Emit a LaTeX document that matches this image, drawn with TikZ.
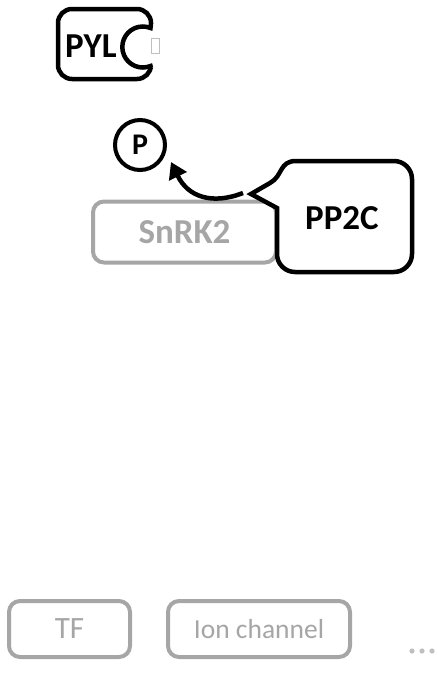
\documentclass[tikz,border=0pt]{standalone}
\usepackage{fontspec}
\setmainfont{Carlito}
\usetikzlibrary{arrows.meta}
\definecolor{inkgrey}{HTML}{A6A6A6}
\definecolor{dotgrey}{HTML}{BFBFBF}
\tikzset{
  blackline/.style={draw=black, line width=4.5pt},
  blackbox/.style={blackline, rounded corners=14pt, fill=white},
  greybox/.style={draw=inkgrey, line width=4pt, rounded corners=11pt, fill=white},
  boldlabel/.style={font=\bfseries\fontsize{35}{38}\selectfont},
  greylabel/.style={font=\fontsize{31}{34}\selectfont, text=inkgrey},
  arr/.style={line width=4.5pt, -{Triangle[length=16pt,width=19pt]}},
}
\begin{document}
\begin{tikzpicture}[x=1pt,y=-1pt]
\useasboundingbox (0,0) rectangle (438,673);

% PYL receptor with its ligand pocket
\draw[blackbox] (58,9) rectangle (151,79);
\fill[white] (138,24) rectangle (158,68);
\draw[blackline] (151,24) -- (150.5,28) arc[start angle=-68,end angle=-292,radius=20.5] -- (151,68);
\draw[dotgrey, line width=0.6pt, fill=white] (151,38) rectangle (159,53);
\node[boldlabel, anchor=west, inner sep=0pt] (pyl) at (65,46) {PYL};

% SnRK2 kinase
\node[greybox, minimum width=183pt, minimum height=61pt, text=inkgrey, boldlabel] (snrk) at (184.5,232) {SnRK2};

% PP2C phosphatase drawn as a callout
\coordinate (tip) at (251,194);
\draw[blackline, fill=white]
  (tip) -- (277,208) -- (277,254) arc[start angle=180,end angle=90,radius=18]
  -- (394,272) arc[start angle=90,end angle=0,radius=18]
  -- (412,179) arc[start angle=0,end angle=-90,radius=18]
  -- (296,161) .. controls (279,161) and (283,176) .. (270,183) -- cycle;
\node[boldlabel] (pp2c) at (342,218) {PP2C};
\coordinate (cut) at (243,193);

% phosphate and the release arrow
\node[circle, draw, line width=4pt, minimum size=50pt, inner sep=0pt, font=\bfseries\fontsize{30}{32}\selectfont] (pc) at (140,145) {P};
\coordinate (pdock) at (171,162);
\draw[arr] (cut) .. controls (212,205) and (188,197) .. (pdock);

% downstream targets
\node[greybox, minimum width=121pt, minimum height=56pt, greylabel] (tf) at (69.5,629) {TF};
\node[greybox, minimum width=182pt, minimum height=56pt, greylabel, font=\fontsize{27.5}{30}\selectfont] (ion) at (259,629) {Ion channel};
\foreach \x [count=\i] in {412,422,432} \fill[dotgrey] (\x,651) circle (2.6pt) coordinate (d\i);
\end{tikzpicture}
\end{document}
